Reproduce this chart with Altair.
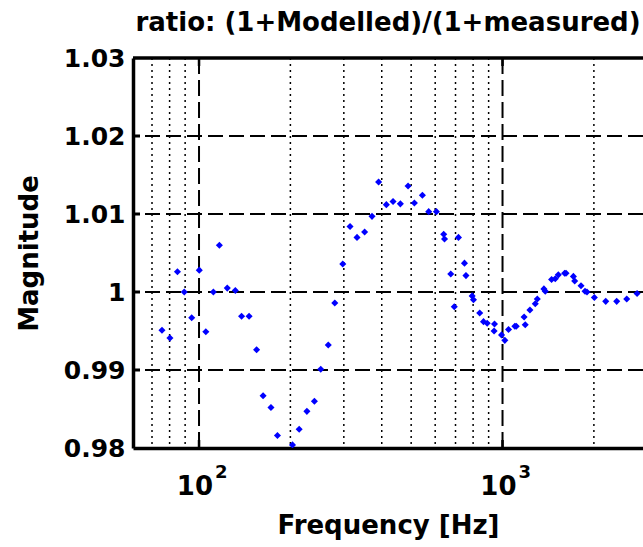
import altair as alt
import pandas as pd

# ---- data ----
freq = [75.5, 80.2, 84.9, 89.4, 94.6, 100.2, 105.3, 111.5, 116.7, 123.9,
        131.7, 138.1, 146.2, 154.8, 162.6, 172.6, 181.3, 192.2, 203.2, 213.8,
        226.7, 240.0, 251.8, 266.6, 280.1, 297.6, 314.5, 331.6, 351.3, 371.5,
        390.6, 414.2, 435.8, 460.7, 488.4, 512.4, 544.5, 571.2, 605.6, 640.0,
        644.0, 675.2, 693.4, 715.9, 749.3, 757.8, 794.3, 802.2, 841.0, 865.6,
        890.2, 938.0, 941.0, 992.5, 1017.6, 1046.6, 1098.0, 1110.0, 1178.0, 1188.0,
        1231.0, 1282.0, 1302.0, 1369.0, 1383.0, 1451.0, 1492.0, 1527.0, 1602.0, 1619.0,
        1712.0, 1729.0, 1814.0, 1870.0, 1898.0, 2007.0, 2188.0, 2378.0, 2566.0, 2775.0]
ratio = [0.9951, 0.9941, 1.0026, 1.0000, 0.9967, 1.0028, 0.9949, 1.0000, 1.0060, 1.0005,
         1.0002, 0.9969, 0.9969, 0.9926, 0.9867, 0.9852, 0.9816, 0.9795, 0.9804, 0.9824,
         0.9847, 0.9860, 0.9901, 0.9932, 0.9986, 1.0036, 1.0084, 1.0070, 1.0077, 1.0097,
         1.0141, 1.0112, 1.0116, 1.0113, 1.0136, 1.0114, 1.0124, 1.0103, 1.0103, 1.0074,
         1.0068, 1.0023, 0.9981, 1.0070, 1.0037, 1.0021, 0.9995, 0.9990, 0.9973, 0.9962,
         0.9960, 0.9950, 0.9959, 0.9945, 0.9938, 0.9952, 0.9956, 0.9956, 0.9968, 0.9958,
         0.9977, 0.9985, 0.9991, 1.0004, 1.0001, 1.0016, 1.0017, 1.0022, 1.0024, 1.0024,
         1.0020, 1.0014, 1.0008, 1.0001, 1.0000, 0.9993, 0.9988, 0.9988, 0.9991, 0.9998]

y_ticks = [0.98, 0.99, 1.0, 1.01, 1.02, 1.03]
y_grid = [0.99, 1.0, 1.01, 1.02]
x_major = [100, 1000]
x_major_base = ["10", "10"]
x_major_exp = ["2", "3"]
x_minor = [70, 80, 90, 200, 300, 400, 500, 600, 700, 800, 900, 2000]
title_text = ["ratio: (1+Modelled)/(1+measured)"]

FONT = "DejaVu Sans"
W, H = 510, 390

xscale = alt.Scale(type="log", domain=[60.6, 2903], nice=False)
yscale = alt.Scale(domain=[0.98, 1.03], nice=False, zero=False)

x_axis = alt.Axis(
    title="Frequency [Hz]", labels=False, ticks=False, grid=False,
    domainColor="black", domainWidth=3.5,
    titleFont=FONT, titleFontSize=26, titleFontWeight="bold", titleColor="black",
    titleX=W / 2, titleY=85, titleBaseline="alphabetic", titleAlign="center")
y_axis = alt.Axis(
    title="Magnitude", values=y_ticks, format=".2~f", ticks=False, grid=False,
    domainColor="black", domainWidth=3.5, labelOverlap=False,
    labelFont=FONT, labelFontSize=25, labelFontWeight="bold", labelColor="black",
    labelPadding=8,
    titleFont=FONT, titleFontSize=26, titleFontWeight="bold", titleColor="black",
    titleAngle=270, titleX=-96, titleY=H / 2, titleBaseline="alphabetic",
    titleAlign="center")

X = lambda: alt.X("f:Q", scale=xscale, axis=x_axis)
Y = lambda field: alt.Y(field, scale=yscale, axis=y_axis)

pts = pd.DataFrame({"f": freq, "r": ratio})
ygrid_df = pd.DataFrame({"v": y_grid})
xmaj_df = pd.DataFrame({"f": x_major, "base": x_major_base, "exp": x_major_exp})
xmin_df = pd.DataFrame({"f": x_minor})
title_df = pd.DataFrame({"t": title_text})

minor_grid = alt.Chart(xmin_df).mark_rule(
    color="black", strokeWidth=1.5, strokeDash=[2, 4]
).encode(x=X())

major_xgrid = alt.Chart(xmaj_df).mark_rule(
    color="black", strokeWidth=2, strokeDash=[16, 6]
).encode(x=X())

major_ygrid = alt.Chart(ygrid_df).mark_rule(
    color="black", strokeWidth=2, strokeDash=[15, 6]
).encode(y=Y("v:Q"))

points = alt.Chart(pts).mark_point(
    shape="diamond", filled=True, color="#0000ff", size=50, opacity=1, clip=True
).encode(x=X(), y=Y("r:Q"))

top_border = alt.Chart(title_df).mark_rule(color="black", strokeWidth=3.5).encode(
    x=alt.value(0), x2=alt.value(W), y=alt.value(0))

xticks_bottom = alt.Chart(xmaj_df).mark_rule(color="black", strokeWidth=2.5).encode(
    x=X(), y=alt.value(H), y2=alt.value(H - 8))
xticks_top = alt.Chart(xmaj_df).mark_rule(color="black", strokeWidth=2.5).encode(
    x=X(), y=alt.value(0), y2=alt.value(8))
yticks = alt.Chart(ygrid_df).mark_rule(color="black", strokeWidth=3).encode(
    y=Y("v:Q"), x=alt.value(0), x2=alt.value(7))

base_lbl = alt.Chart(xmaj_df).mark_text(
    align="right", baseline="alphabetic", dx=14, font=FONT, fontSize=26,
    fontWeight="bold", color="black"
).encode(x=X(), y=alt.value(H + 47), text="base:N")
exp_lbl = alt.Chart(xmaj_df).mark_text(
    align="left", baseline="alphabetic", dx=16, font=FONT, fontSize=18,
    fontWeight="bold", color="black"
).encode(x=X(), y=alt.value(H + 30), text="exp:N")

title_lbl = alt.Chart(title_df).mark_text(
    align="center", baseline="alphabetic", font=FONT, fontSize=26,
    fontWeight="bold", color="black"
).encode(x=alt.value(W / 2), y=alt.value(-27), text="t:N")

chart = alt.layer(
    minor_grid, major_xgrid, major_ygrid, points,
    top_border, xticks_bottom, xticks_top, yticks, base_lbl, exp_lbl, title_lbl
).properties(
    width=W, height=H,
    autosize=alt.AutoSizeParams(type="none"),
    padding={"left": 133, "top": 58, "right": 0, "bottom": 99},
    background="white",
).configure_view(stroke=None)

chart.save("out.html", embed_options={"renderer": "svg", "actions": False})
